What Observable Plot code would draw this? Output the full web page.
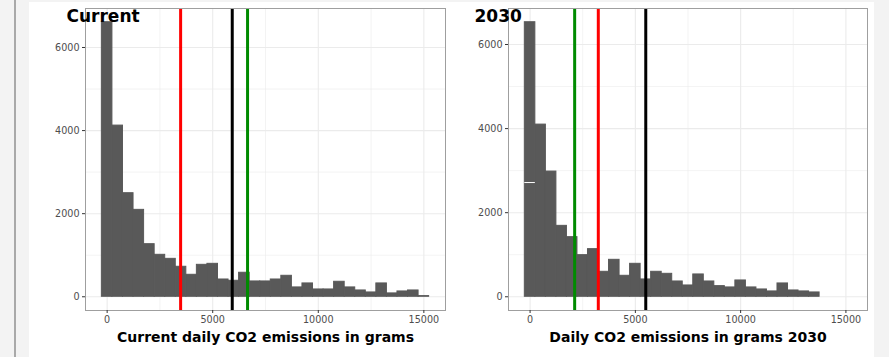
<!DOCTYPE html>
<html><head><meta charset="utf-8">
<script src="https://cdn.jsdelivr.net/npm/d3@7"></script>
<script src="https://cdn.jsdelivr.net/npm/@observablehq/plot@0.6"></script>
<style>
html,body{margin:0;padding:0;background:#f3f3f3;width:889px;height:357px;overflow:hidden;font-family:"DejaVu Sans",sans-serif;}
#rule{position:absolute;left:14px;top:0;width:2px;height:357px;background:#a9a9a9;}
#sheet{position:absolute;left:29px;top:2px;width:845px;height:355px;background:#fff;}
#left{position:absolute;left:0;top:0;}
#right{position:absolute;left:430px;top:0;}
</style></head><body>
<div id="rule"></div>
<div id="sheet"><div id="left"></div><div id="right"></div></div>
<script>
// ---- data ----
const binWidth = 500;
const currentBins = [0,500,1000,1500,2000,2500,3000,3500,4000,4500,5000,5500,6000,6500,7000,7500,8000,8500,9000,9500,10000,10500,11000,11500,12000,12500,13000,13500,14000,14500,15000];
const currentCounts = [6608,4120,2493,2092,1266,1010,913,722,529,769,793,416,385,578,369,369,416,505,225,321,176,176,361,225,152,104,321,81,128,152,16];
const futureBins = [0,500,1000,1500,2000,2500,3000,3500,4000,4500,5000,5500,6000,6500,7000,7500,8000,8500,9000,9500,10000,10500,11000,11500,12000,12500,13000,13500];
const futureCounts = [6530,4095,2978,1687,1418,990,1133,594,879,499,784,412,594,546,364,269,531,364,253,222,388,222,174,127,317,150,127,103];
const futureWhiteMarks = [{bin:0, count:2717}];
const markerColors = ["#ff0000", "#000000", "#008b00"];
const currentMarkers = [3480, 5925, 6650];
const futureMarkers = [3240, 5494, 2117];
const xTicks = [0, 5000, 10000, 15000];
const xMinorTicks = [2500, 7500, 12500];
const yTicks = [0, 2000, 4000, 6000];
const yMinorTicks = [1000, 3000, 5000];
const xDomain = [-1025, 16025];
const currentTitle = "Current";
const futureTitle = "2030";
const currentXLabel = "Current daily CO2 emissions in grams";
const futureXLabel = "Daily CO2 emissions in grams 2030";

const barFill = "#595959";
const gridColor = "#ebebeb";

function panel({bins, counts, markers, title, xlabel, width, marginLeft, marginRight, titleDx, whiteMarks}) {
  const rows = bins.map((b, i) => ({x1: b - binWidth/2, x2: b + binWidth/2, count: counts[i]}));
  const M = d3.max(counts);
  return Plot.plot({
    width, height: 355, marginLeft, marginRight, marginTop: 6, marginBottom: 47,
    style: {background: "transparent", fontFamily: "DejaVu Sans", overflow: "visible"},
    x: {domain: xDomain, axis: null},
    y: {domain: [-0.05*M, 1.05*M], axis: null},
    marks: [
      Plot.ruleX(xMinorTicks, {stroke: gridColor, strokeWidth: 0.6}),
      Plot.ruleY(yMinorTicks, {stroke: gridColor, strokeWidth: 0.6}),
      Plot.ruleX(xTicks, {stroke: gridColor, strokeWidth: 1.1}),
      Plot.ruleY(yTicks, {stroke: gridColor, strokeWidth: 1.1}),
      Plot.rectY(rows, {x1: "x1", x2: "x2", y: "count", fill: barFill, stroke: barFill, strokeWidth: 1, inset: 0}),
      Plot.ruleY(whiteMarks || [], {x1: d => d.bin - binWidth/2, x2: d => d.bin + binWidth/2, y: "count", stroke: "white", strokeWidth: 1}),
      Plot.ruleX(markers, {x: d => d, stroke: (d, i) => markerColors[i], strokeWidth: 3}),
      Plot.frame({stroke: "#9f9f9f", strokeWidth: 1}),
      Plot.axisX(xTicks, {tickSize: 3, tickPadding: 3, fontSize: 9.6, stroke: "#333333", fill: "#4d4d4d", tickFormat: d => String(d), label: null}),
      Plot.axisY(yTicks, {tickSize: 3, tickPadding: 3, fontSize: 9.6, stroke: "#333333", fill: "#4d4d4d", tickFormat: d => String(d), label: null}),
      Plot.text([title], {text: d => d, frameAnchor: "top-left", dx: titleDx, dy: 1.4, lineAnchor: "top", textAnchor: "start", fontSize: 17, fontWeight: "bold", fill: "black"}),
      Plot.text([xlabel], {text: d => d, frameAnchor: "bottom", dy: 21.3, lineAnchor: "top", textAnchor: "middle", fontSize: 14, fontWeight: "bold", fill: "black"})
    ]
  });
}

document.getElementById("left").append(panel({
  bins: currentBins, counts: currentCounts, markers: currentMarkers,
  title: currentTitle, xlabel: currentXLabel, width: 430, marginLeft: 56, marginRight: 14, titleDx: -19
}));
document.getElementById("right").append(panel({
  bins: futureBins, counts: futureCounts, markers: futureMarkers,
  title: futureTitle, xlabel: futureXLabel, width: 415, marginLeft: 49, marginRight: 7, titleDx: -34,
  whiteMarks: futureWhiteMarks
}));
</script>
</body></html>
